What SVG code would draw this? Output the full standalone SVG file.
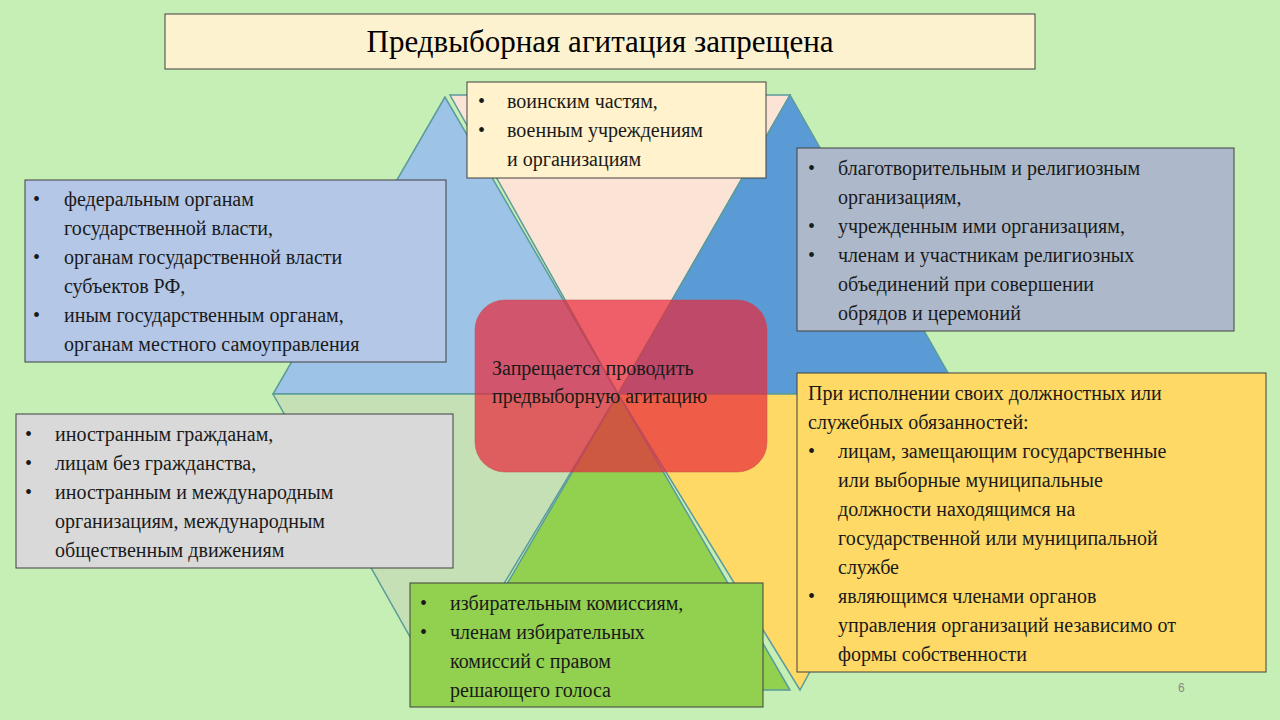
<svg xmlns="http://www.w3.org/2000/svg" width="1280" height="720" viewBox="0 0 1280 720">
<style>
.t{font-family:"Liberation Serif",serif;font-size:20px;fill:#1a1a1a}
.box{stroke:#404040;stroke-width:1}
.tri{stroke:#5b9b9b;stroke-width:1.5}
</style>
<rect width="1280" height="720" fill="#c5efb5"/>
<g id="hexagram">
<polygon class="tri" points="450,95 790,95 618,394" fill="#fbe3d6"/>
<polygon class="tri" points="445,97 273,394 618,394" fill="#9dc3e6"/>
<polygon class="tri" points="790,95 618,394 960,394" fill="#5b9bd5"/>
<polygon class="tri" points="273,394 618,394 440,690" fill="#c5e0b4"/>
<polygon class="tri" points="618,394 445,690 790,690" fill="#92d050"/>
<polygon class="tri" points="618,394 960,394 800,690" fill="#ffd966"/>
</g>
<g id="title"><rect class="box" x="165" y="14" width="870" height="55" fill="#fdf2d0"/>
<text x="600" y="52" text-anchor="middle" style="font-family:'Liberation Serif',serif;font-size:31px;fill:#000">Предвыборная агитация запрещена</text></g>
<g id="center"><rect x="475" y="300" width="292" height="172" rx="30" fill="#e8263a" fill-opacity="0.7" stroke="#c0504d" stroke-opacity="0.5"/>
<text class="t" x="492" y="375">Запрещается проводить</text><text class="t" x="492" y="403">предвыборную агитацию</text></g>
<g id="top"><rect class="box" x="467" y="82" width="299" height="96" fill="#fff2cc"/>
<text class="t"><tspan x="478" y="108">•</tspan><tspan x="507" y="108">воинским частям,</tspan><tspan x="478" y="137">•</tspan><tspan x="507" y="137">военным учреждениям</tspan><tspan x="507" y="166">и организациям</tspan></text></g>
<g id="lefttop"><rect class="box" x="25" y="180" width="421" height="182" fill="#b4c7e7"/>
<text class="t"><tspan x="33" y="206">•</tspan><tspan x="64" y="206">федеральным органам</tspan><tspan x="64" y="235">государственной власти,</tspan><tspan x="33" y="264">•</tspan><tspan x="64" y="264">органам государственной власти</tspan><tspan x="64" y="293">субъектов РФ,</tspan><tspan x="33" y="322">•</tspan><tspan x="64" y="322">иным государственным органам,</tspan><tspan x="64" y="351">органам местного самоуправления</tspan></text></g>
<g id="righttop"><rect class="box" x="797" y="148" width="437" height="183" fill="#adb9ca"/>
<text class="t"><tspan x="808" y="175">•</tspan><tspan x="838" y="175">благотворительным и религиозным</tspan><tspan x="838" y="204">организациям,</tspan><tspan x="808" y="233">•</tspan><tspan x="838" y="233">учрежденным ими организациям,</tspan><tspan x="808" y="262">•</tspan><tspan x="838" y="262">членам и участникам религиозных</tspan><tspan x="838" y="291">объединений при совершении</tspan><tspan x="838" y="320">обрядов и церемоний</tspan></text></g>
<g id="leftbottom"><rect class="box" x="16" y="414" width="437" height="154" fill="#d9d9d9"/>
<text class="t"><tspan x="25" y="441">•</tspan><tspan x="55" y="441">иностранным  гражданам,</tspan><tspan x="25" y="470">•</tspan><tspan x="55" y="470">лицам без гражданства,</tspan><tspan x="25" y="499">•</tspan><tspan x="55" y="499">иностранным и международным</tspan><tspan x="55" y="528">организациям, международным</tspan><tspan x="55" y="557">общественным движениям</tspan></text></g>
<g id="rightbottom"><rect class="box" x="797" y="373" width="469" height="299" fill="#ffd966"/>
<text class="t"><tspan x="808" y="400">При исполнении своих должностных или</tspan><tspan x="808" y="429">служебных обязанностей:</tspan><tspan x="808" y="458">•</tspan><tspan x="838" y="458">лицам, замещающим государственные</tspan><tspan x="838" y="487">или выборные муниципальные</tspan><tspan x="838" y="516">должности находящимся на</tspan><tspan x="838" y="545">государственной или муниципальной</tspan><tspan x="838" y="574">службе</tspan><tspan x="808" y="603">•</tspan><tspan x="838" y="603">являющимся членами органов</tspan><tspan x="838" y="632">управления организаций независимо от</tspan><tspan x="838" y="661">формы собственности</tspan></text></g>
<g id="bottom"><rect class="box" x="410" y="583" width="353" height="124" fill="#92d050"/>
<text class="t"><tspan x="420" y="610">•</tspan><tspan x="450" y="610">избирательным комиссиям,</tspan><tspan x="420" y="639">•</tspan><tspan x="450" y="639">членам избирательных</tspan><tspan x="450" y="668">комиссий с правом</tspan><tspan x="450" y="697">решающего голоса</tspan></text></g>
<text x="1178" y="692" style="font-family:'Liberation Sans',sans-serif;font-size:12px;fill:#888">6</text>
<g id="connectors"/>
</svg>
